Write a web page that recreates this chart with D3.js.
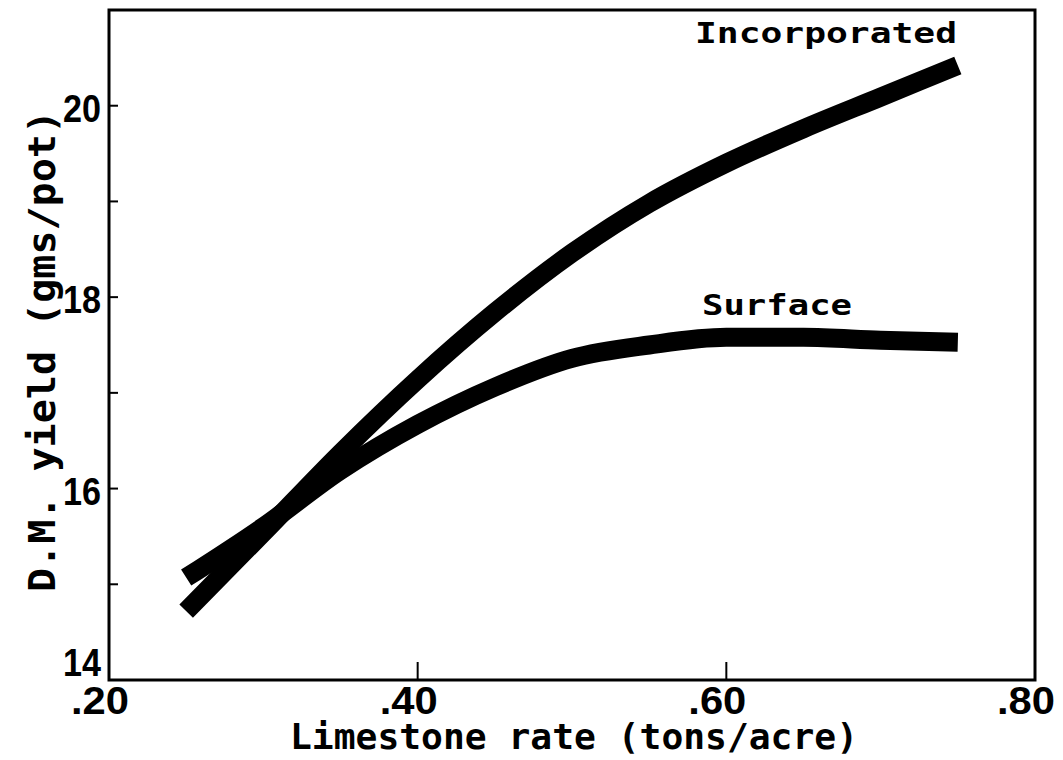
<!DOCTYPE html>
<html>
<head>
<meta charset="utf-8">
<script src="https://cdn.jsdelivr.net/npm/d3@7"></script>
<style>
	body { margin: 0; background: #fff; }
	text { fill: #000; }
</style>
</head>
<body>
<script>
var width = 1063,
	height = 760;

// limestone rate (tons/acre) and D.M. yield (gms/pot)
var rates = [.25, .30, .35, .40, .45, .50, .55, .60, .65, .70, .75];
var incorporated = [14.72, 15.54, 16.37, 17.14, 17.84, 18.46, 18.98, 19.40, 19.76, 20.09, 20.42];
var surface = [15.07, 15.60, 16.19, 16.67, 17.06, 17.36, 17.50, 17.58, 17.58, 17.55, 17.53];

var xLabels = [.2, .4, .6, .8],
	xTicks = [.4, .6],
	yLabels = [14, 16, 18, 20],
	yTicks = [15, 16, 17, 18, 19, 20];

var series = [
	{name: "Incorporated", values: incorporated, lx: 695, ly: 43, len: 262},
	{name: "Surface", values: surface, lx: 702, ly: 315, len: 150}
];

var x = d3.scaleLinear().domain([.2, .8]).range([109, 1035]),
	y = d3.scaleLinear().domain([14, 21]).range([680, 10]);

var svg = d3.select("body")
		.append("svg")
		.attr("width", width)
		.attr("height", height);

var labelFont = "'Liberation Sans', Arial, sans-serif",
	textFont = "'DejaVu Sans Mono', 'Liberation Mono', monospace";

// frame
svg.append("rect")
	.attr("x", x(.2))
	.attr("y", y(21))
	.attr("width", x(.8) - x(.2))
	.attr("height", y(14) - y(21))
	.attr("fill", "none")
	.attr("stroke", "#000")
	.attr("stroke-width", 3);

// inward ticks
svg.selectAll(".yt")
	.data(yTicks)
	.enter().append("line")
	.attr("x1", x(.2)).attr("x2", x(.2) + 9)
	.attr("y1", d => y(d)).attr("y2", d => y(d))
	.attr("stroke", "#000").attr("stroke-width", 2);

svg.selectAll(".xt")
	.data(xTicks)
	.enter().append("line")
	.attr("x1", d => x(d)).attr("x2", d => x(d))
	.attr("y1", y(14)).attr("y2", y(14) - 18)
	.attr("stroke", "#000").attr("stroke-width", 2);

// tick labels, squeezed to the narrow plotter digits
svg.selectAll(".yl")
	.data(yLabels)
	.enter().append("text")
	.attr("x", x(.2) - 46)
	.attr("y", d => d === 14 ? y(d) - 4 : y(d) + 16)
	.attr("textLength", 38)
	.attr("lengthAdjust", "spacingAndGlyphs")
	.style("font-family", labelFont)
	.style("font-weight", "bold")
	.style("font-size", "38px")
	.text(d => d);

svg.selectAll(".xl")
	.data(xLabels)
	.enter().append("text")
	.attr("x", d => x(d) - 38)
	.attr("y", 714)
	.attr("textLength", 58)
	.attr("lengthAdjust", "spacingAndGlyphs")
	.style("font-family", labelFont)
	.style("font-weight", "bold")
	.style("font-size", "38px")
	.text(d => d3.format(".2f")(d).replace(/^0/, ""));

// axis titles
svg.append("text")
	.attr("x", 290)
	.attr("y", 749)
	.attr("textLength", 568)
	.attr("lengthAdjust", "spacingAndGlyphs")
	.style("font-family", textFont)
	.style("font-weight", "bold")
	.style("font-size", "36px")
	.text("Limestone rate (tons/acre)");

svg.append("text")
	.attr("transform", "translate(55,592) rotate(-90)")
	.attr("textLength", 482)
	.attr("lengthAdjust", "spacingAndGlyphs")
	.style("font-family", textFont)
	.style("font-weight", "bold")
	.style("font-size", "38px")
	.text("D.M. yield (gms/pot)");

// curves
var line = d3.line()
	.x((d, i) => x(rates[i]))
	.y(d => y(d))
	.curve(d3.curveMonotoneX);

svg.selectAll(".curve")
	.data(series)
	.enter().append("path")
	.attr("d", d => line(d.values))
	.attr("fill", "none")
	.attr("stroke", "#000")
	.attr("stroke-width", 19)
	.attr("stroke-linecap", "butt")
	.attr("stroke-linejoin", "round");

svg.selectAll(".name")
	.data(series)
	.enter().append("text")
	.attr("x", d => d.lx)
	.attr("y", d => d.ly)
	.attr("textLength", d => d.len)
	.attr("lengthAdjust", "spacingAndGlyphs")
	.style("font-family", textFont)
	.style("font-weight", "bold")
	.style("font-size", "29px")
	.text(d => d.name);
</script>
</body>
</html>
